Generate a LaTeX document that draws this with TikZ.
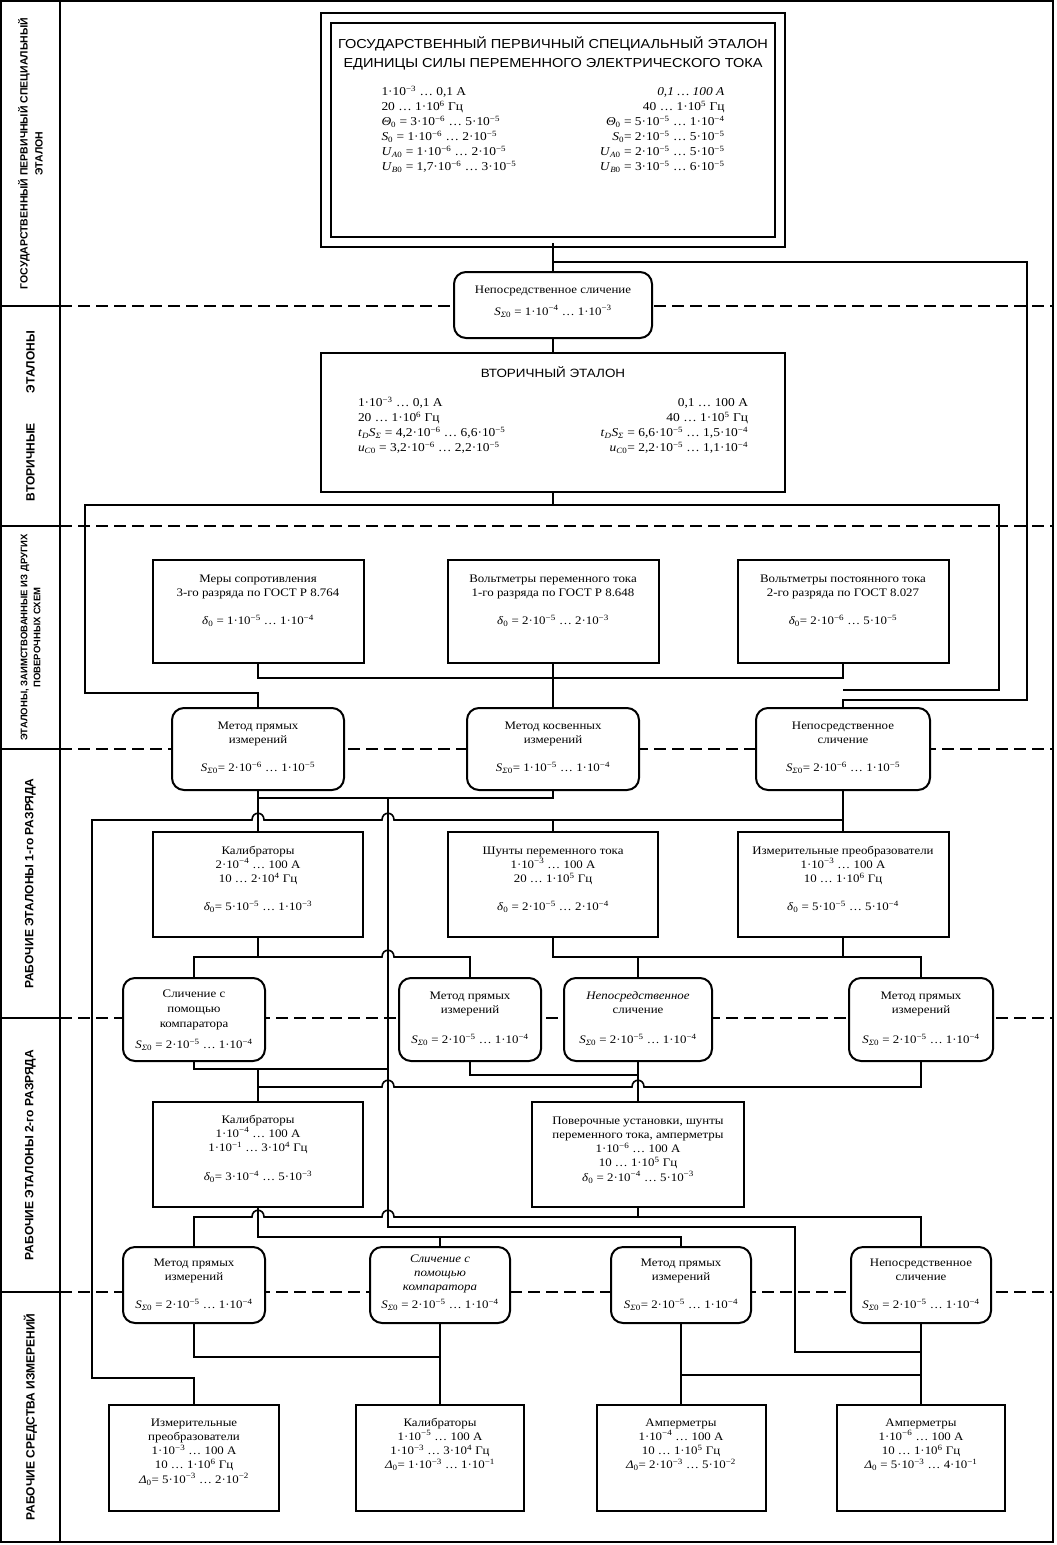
\documentclass[tikz,border=0pt]{standalone}
\usepackage{fontspec}
\setmainfont{Liberation Serif}[FakeStretch=1.12]
\newfontfamily\headfont{Liberation Sans}[FakeStretch=1.12]
\newfontfamily\sidefont{Liberation Sans}
\usetikzlibrary{backgrounds}

% numbers and symbols
\newcommand{\ten}[1]{·10\textsuperscript{#1}}
\newcommand{\Sz}{\textit{S}\textsubscript{\textit{Σ}0}}
\newcommand{\dz}{\textit{δ}\textsubscript{0}}
\newcommand{\Dz}{\textit{Δ}\textsubscript{0}}
% box contents: [top pad]{width}{height}{lines}
\newcommand{\boxcell}[4][11]{\parbox[c][#3pt][t]{#2pt}{\centering\vspace*{#1pt}\strut #4}}

\begin{document}
\begin{tikzpicture}[x=1pt, y=-1pt,
    stdbox/.style={draw, line width=2pt, fill=white, inner sep=0pt,
      font=\fontsize{11.5}{14.3}\selectfont},
    methbox/.style={stdbox, rounded corners=12pt},
    topbox/.style={draw, line width=2pt, double, double distance=7.5pt, fill=white,
      inner sep=0pt, minimum width=454pt, minimum height=224pt},
    sidecell/.style={draw, line width=2pt, rotate=90, minimum height=59pt, inner sep=2pt,
      align=center, font=\sidefont\bfseries\fontsize{12}{15}\selectfont},
    conn/.style={line width=1.6pt},
    level/.style={line width=1.8pt, dash pattern=on 12pt off 6pt}]
  \useasboundingbox (0,0) rectangle (1057,1545);

  % left column
  \node[sidecell, minimum width=305pt, font=\sidefont\bfseries\fontsize{10.5}{15}\selectfont] (s1) at (30.5,153.5) {ГОСУДАРСТВЕННЫЙ ПЕРВИЧНЫЙ СПЕЦИАЛЬНЫЙ\\ЭТАЛОН};
  \node[sidecell, minimum width=220pt] (s2) at (30.5,416) {ВТОРИЧНЫЕ\hspace{30pt}ЭТАЛОНЫ};
  \node[sidecell, minimum width=223pt, font=\sidefont\bfseries\fontsize{9.5}{13}\selectfont] (s3) at (30.5,637.5) {ЭТАЛОНЫ, ЗАИМСТВОВАННЫЕ ИЗ ДРУГИХ\\ПОВЕРОЧНЫХ СХЕМ};
  \node[sidecell, minimum width=269pt] (s4) at (30.5,883.5) {РАБОЧИЕ ЭТАЛОНЫ 1-го РАЗРЯДА};
  \node[sidecell, minimum width=274pt] (s5) at (30.5,1155) {РАБОЧИЕ ЭТАЛОНЫ 2-го РАЗРЯДА};
  \node[sidecell, minimum width=250pt] (s6) at (30.5,1417) {РАБОЧИЕ СРЕДСТВА ИЗМЕРЕНИЙ};
  \draw[line width=2.2pt] (1,1) rectangle (1053,1542);

  % state primary standard
  \node[topbox] (pse) at (553,130) {\boxcell[19]{440}{224}{{\headfont\fontsize{13}{19}\selectfont
    ГОСУДАРСТВЕННЫЙ ПЕРВИЧНЫЙ СПЕЦИАЛЬНЫЙ ЭТАЛОН\\ЕДИНИЦЫ СИЛЫ ПЕРЕМЕННОГО ЭЛЕКТРИЧЕСКОГО ТОКА\par}
    \vspace{13pt}{\fontsize{12}{15}\selectfont\begin{tabular*}{343pt}[t]{@{}l@{\extracolsep{\fill}}r@{}}
    1\ten{−3} … 0,1 А & \textit{0,1 … 100 А}\\
    20 … 1\ten{6} Гц & 40 … 1\ten{5} Гц\\
    \textit{Θ}\textsubscript{0} = 3\ten{−6} … 5\ten{−5} & \textit{Θ}\textsubscript{0} = 5\ten{−5} … 1\ten{−4}\\
    \textit{S}\textsubscript{0} = 1\ten{−6} … 2\ten{−5} & \textit{S}\textsubscript{0}= 2\ten{−5} … 5\ten{−5}\\
    \textit{U}\textsubscript{\textit{A}0} = 1\ten{−6} … 2\ten{−5} & \textit{U}\textsubscript{\textit{A}0} = 2\ten{−5} … 5\ten{−5}\\
    \textit{U}\textsubscript{\textit{B}0} = 1,7\ten{−6} … 3\ten{−5} & \textit{U}\textsubscript{\textit{B}0} = 3\ten{−5} … 6\ten{−5}
    \end{tabular*}\par}}};
  \node[methbox] (cmp0) at (553,305) {\boxcell[11]{198}{66}{Непосредственное сличение\\[8pt]\Sz{} = 1\ten{−4} … 1\ten{−3}}};

  % secondary standard
  \node[stdbox] (sec) at (553,422.5) {\boxcell[14]{464}{139}{{\headfont\fontsize{12}{19}\selectfont ВТОРИЧНЫЙ ЭТАЛОН\par}
    \vspace{14pt}{\fontsize{12}{15}\selectfont\begin{tabular*}{390pt}[t]{@{}l@{\extracolsep{\fill}}r@{}}
    1\ten{−3} … 0,1 А & 0,1 … 100 А\\
    20 … 1\ten{6} Гц & 40 … 1\ten{5} Гц\\
    \textit{t}\textsubscript{\textit{D}}\textit{S}\textsubscript{\textit{Σ}} = 4,2\ten{−6} … 6,6\ten{−5} & \textit{t}\textsubscript{\textit{D}}\textit{S}\textsubscript{\textit{Σ}} = 6,6\ten{−5} … 1,5\ten{−4}\\
    \textit{u}\textsubscript{\textit{C}0} = 3,2\ten{−6} … 2,2\ten{−5} & \textit{u}\textsubscript{\textit{C}0}= 2,2\ten{−5} … 1,1\ten{−4}
    \end{tabular*}\par}}};

  % borrowed standards
  \node[stdbox] (a1) at (258,611.5) {\boxcell[12]{211}{103}{Меры сопротивления\\3-го разряда по ГОСТ Р 8.764\\[14pt]\dz{} = 1\ten{−5} … 1\ten{−4}}};
  \node[stdbox] (a2) at (553,611.5) {\boxcell[12]{211}{103}{Вольтметры переменного тока\\1-го разряда по ГОСТ Р 8.648\\[14pt]\dz{} = 2\ten{−5} … 2\ten{−3}}};
  \node[stdbox] (a3) at (843,611.5) {\boxcell[12]{211}{103}{Вольтметры постоянного тока\\2-го разряда по ГОСТ 8.027\\[14pt]\dz{}= 2\ten{−6} … 5\ten{−5}}};

  \node[methbox] (m1) at (258,749) {\boxcell{172}{82}{Метод прямых\\измерений\\[14pt]\Sz{}= 2\ten{−6} … 1\ten{−5}}};
  \node[methbox] (m2) at (553,749) {\boxcell{172}{82}{Метод косвенных\\измерений\\[14pt]\Sz{}= 1\ten{−5} … 1\ten{−4}}};
  \node[methbox] (m3) at (843,749) {\boxcell{174}{82}{Непосредственное\\сличение\\[14pt]\Sz{}= 2\ten{−6} … 1\ten{−5}}};

  % working standards, 1st rank
  \node[stdbox] (k1) at (258,884.5) {\boxcell[12]{210}{105}{Калибраторы\\2\ten{−4} … 100 А\\10 … 2\ten{4} Гц\\[14pt]\dz{}= 5\ten{−5} … 1\ten{−3}}};
  \node[stdbox] (k2) at (553,884.5) {\boxcell[12]{210}{105}{Шунты переменного тока\\1\ten{−3} … 100 А\\20 … 1\ten{5} Гц\\[14pt]\dz{} = 2\ten{−5} … 2\ten{−4}}};
  \node[stdbox] (k3) at (843,884.5) {\boxcell[12]{211}{105}{Измерительные преобразователи\\1\ten{−3} … 100 А\\10 … 1\ten{6} Гц\\[14pt]\dz{} = 5\ten{−5} … 5\ten{−4}}};

  \node[methbox] (c1) at (194,1019.5) {\boxcell[9]{142}{83}{Сличение с\\[1pt]помощью\\[1pt]компаратора\\[7pt]\Sz{} = 2\ten{−5} … 1\ten{−4}}};
  \node[methbox] (c2) at (470,1019.5) {\boxcell{142}{83}{Метод прямых\\измерений\\[16pt]\Sz{} = 2\ten{−5} … 1\ten{−4}}};
  \node[methbox] (c3) at (638,1019.5) {\boxcell{148}{83}{\textit{Непосредственное}\\сличение\\[16pt]\Sz{} = 2\ten{−5} … 1\ten{−4}}};
  \node[methbox] (c4) at (921,1019.5) {\boxcell{144}{83}{Метод прямых\\измерений\\[16pt]\Sz{} = 2\ten{−5} … 1\ten{−4}}};

  % working standards, 2nd rank
  \node[stdbox] (b1) at (258,1154.5) {\boxcell{210}{105}{Калибраторы\\1\ten{−4} … 100 А\\1\ten{−1} … 3\ten{4} Гц\\[15pt]\dz{}= 3\ten{−4} … 5\ten{−3}}};
  \node[stdbox] (b2) at (638,1154.5) {\boxcell[12]{212}{105}{Поверочные установки, шунты\\переменного тока, амперметры\\1\ten{−6} … 100 А\\10 … 1\ten{5} Гц\\\dz{} = 2\ten{−4} … 5\ten{−3}}};

  \node[methbox] (d1) at (194,1285) {\boxcell[9]{142}{76}{Метод прямых\\измерений\\[14pt]\Sz{} = 2\ten{−5} … 1\ten{−4}}};
  \node[methbox] (d2) at (440,1285) {\boxcell[5]{140}{76}{\textit{Сличение с}\\\textit{помощью}\\\textit{компаратора}\\[4pt]\Sz{} = 2\ten{−5} … 1\ten{−4}}};
  \node[methbox] (d3) at (681,1285) {\boxcell[9]{140}{76}{Метод прямых\\измерений\\[14pt]\Sz{}= 2\ten{−5} … 1\ten{−4}}};
  \node[methbox] (d4) at (921,1285) {\boxcell[9]{140}{76}{Непосредственное\\сличение\\[14pt]\Sz{} = 2\ten{−5} … 1\ten{−4}}};

  % working measuring instruments
  \node[stdbox] (e1) at (194,1458) {\boxcell{170}{106}{Измерительные\\преобразователи\\1\ten{−3} … 100 А\\10 … 1\ten{6} Гц\\\Dz{}= 5\ten{−3} … 2\ten{−2}}};
  \node[stdbox] (e2) at (440,1458) {\boxcell{168}{106}{Калибраторы\\1\ten{−5} … 100 А\\1\ten{−3} … 3\ten{4} Гц\\\Dz{}= 1\ten{−3} … 1\ten{−1}}};
  \node[stdbox] (e3) at (681,1458) {\boxcell{169}{106}{Амперметры\\1\ten{−4} … 100 А\\10 … 1\ten{5} Гц\\\Dz{}= 2\ten{−3} … 5\ten{−2}}};
  \node[stdbox] (e4) at (921,1458) {\boxcell{168}{106}{Амперметры\\1\ten{−6} … 100 А\\10 … 1\ten{6} Гц\\\Dz{} = 5\ten{−3} … 4\ten{−1}}};

  % connections
  \draw[conn] (pse.south) -- (cmp0.north);
  \draw[conn] (cmp0.south) -- (sec.north);
  \draw[conn] (553,262) -| (1027,700) -| (m3.north);
  \draw[conn] (sec.south) -- (553,505);
  \draw[conn] (m1.north) |- (85,693) |- (999,505) |- (843,690);
  \draw[conn] (a1.south) |- (843,678) -- (a3.south);
  \draw[conn] (a2.south) -- (m2.north);

  \draw[conn] (m1.south) |- (553,798) -- (m2.south);
  \draw[conn] (258,798) -- (k1.north);
  \draw[conn] (388,798) -- (388,1227) -| (795,1352) -- (921,1352);
  \draw[conn] (m3.south) -- (k3.north);
  \draw[conn] (843,820) -- (394,820) .. controls (394,811) and (382,811) .. (382,820)
    -- (264,820) .. controls (264,811) and (252,811) .. (252,820) -- (92,820) |- (194,1378) -- (e1.north);
  \draw[conn] (553,820) -- (k2.north);

  \draw[conn] (k1.south) -- (258,957);
  \draw[conn] (c1.north) |- (382,957) .. controls (382,948) and (394,948) .. (394,957) -| (c2.north);
  \draw[conn] (k2.south) |- (921,957) -- (c4.north);
  \draw[conn] (k3.south) -- (843,957);
  \draw[conn] (638,957) -- (c3.north);

  \draw[conn] (c1.south) |- (388,1069);
  \draw[conn] (258,1069) -- (b1.north);
  \draw[conn] (c2.south) |- (638,1075);
  \draw[conn] (c3.south) -- (b2.north);
  \draw[conn] (c4.south) |- (644,1087) .. controls (644,1078) and (632,1078) .. (632,1087)
    -- (394,1087) .. controls (394,1078) and (382,1078) .. (382,1087) -- (258,1087);

  \draw[conn] (b2.south) -- (638,1217);
  \draw[conn] (d1.north) |- (252,1217) .. controls (252,1208) and (264,1208) .. (264,1217)
    -- (382,1217) .. controls (382,1208) and (394,1208) .. (394,1217) -| (d4.north);
  \draw[conn] (b1.south) |- (681,1237) -- (d3.north);
  \draw[conn] (440,1237) -- (d2.north);

  \draw[conn] (d1.south) |- (440,1357);
  \draw[conn] (d2.south) -- (e2.north);
  \draw[conn] (d3.south) -- (e3.north);
  \draw[conn] (681,1375) -- (921,1375);
  \draw[conn] (d4.south) -- (e4.north);

  % level borders
  \begin{scope}[on background layer]
    \foreach \ly in {306,526,749,1018,1292}
      \draw[level] (60,\ly) -- (1053,\ly);
  \end{scope}
\end{tikzpicture}
\end{document}
